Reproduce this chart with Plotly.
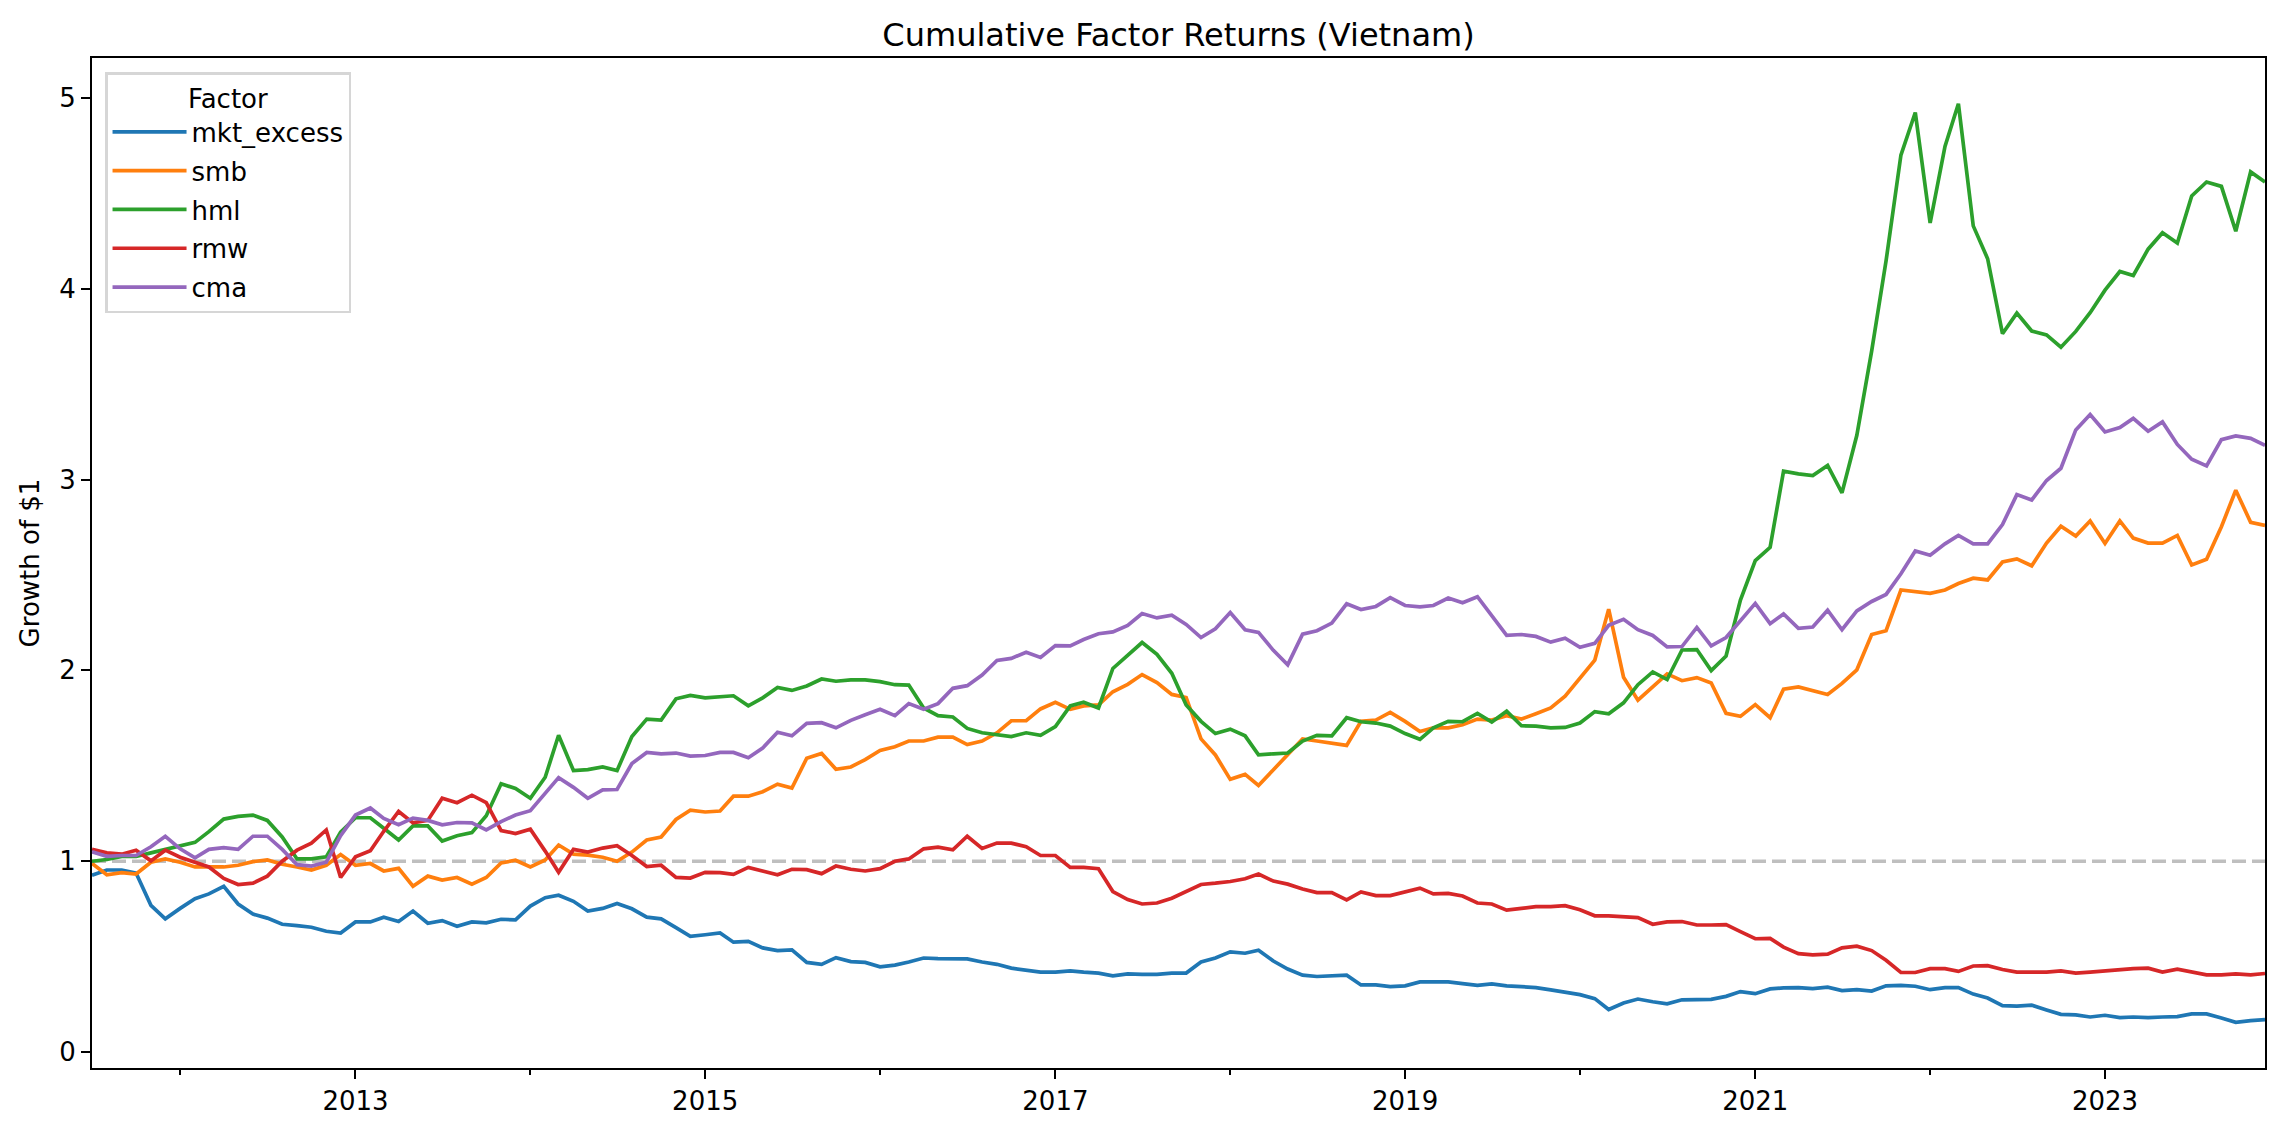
import pandas as pd
import plotly.graph_objects as go

months = pd.period_range("2011-07", "2023-12", freq="M").to_timestamp()

mkt_excess = [0.927, 0.954, 0.954, 0.938, 0.769, 0.698, 0.753, 0.804, 0.829, 0.869,
              0.776, 0.723, 0.702, 0.670, 0.663, 0.654, 0.633, 0.624, 0.682, 0.682,
              0.707, 0.684, 0.739, 0.675, 0.689, 0.659, 0.682, 0.677, 0.696, 0.693,
              0.765, 0.809, 0.822, 0.790, 0.739, 0.753, 0.779, 0.751, 0.707, 0.698,
              0.652, 0.606, 0.615, 0.624, 0.576, 0.580, 0.546, 0.532, 0.536, 0.470,
              0.460, 0.495, 0.474, 0.470, 0.447, 0.456, 0.472, 0.493, 0.490, 0.488,
              0.488, 0.472, 0.460, 0.440, 0.428, 0.419, 0.419, 0.426, 0.419, 0.414,
              0.400, 0.410, 0.407, 0.407, 0.414, 0.414, 0.472, 0.493, 0.525, 0.518,
              0.534, 0.477, 0.435, 0.403, 0.396, 0.400, 0.403, 0.352, 0.352, 0.343,
              0.347, 0.368, 0.370, 0.368, 0.359, 0.350, 0.357, 0.347, 0.343, 0.338,
              0.326, 0.315, 0.301, 0.280, 0.223, 0.257, 0.278, 0.264, 0.253, 0.274,
              0.274, 0.276, 0.292, 0.317, 0.306, 0.331, 0.336, 0.338, 0.333, 0.340,
              0.322, 0.327, 0.320, 0.347, 0.350, 0.345, 0.327, 0.338, 0.338, 0.304,
              0.283, 0.243, 0.241, 0.246, 0.221, 0.198, 0.195, 0.184, 0.193, 0.181,
              0.184, 0.181, 0.184, 0.186, 0.200, 0.200, 0.179, 0.156, 0.165, 0.170]

smb = [0.988, 0.929, 0.940, 0.933, 0.995, 1.012, 0.995, 0.970, 0.970, 0.970,
       0.979, 0.998, 1.007, 0.984, 0.970, 0.954, 0.979, 1.035, 0.979, 0.988,
       0.949, 0.963, 0.869, 0.922, 0.901, 0.915, 0.880, 0.915, 0.991, 1.005,
       0.970, 1.007, 1.085, 1.037, 1.032, 1.021, 1.000, 1.048, 1.111, 1.127,
       1.219, 1.268, 1.258, 1.263, 1.341, 1.341, 1.364, 1.404, 1.383, 1.540,
       1.565, 1.482, 1.494, 1.533, 1.581, 1.600, 1.630, 1.630, 1.650, 1.650,
       1.611, 1.630, 1.673, 1.736, 1.736, 1.798, 1.833, 1.796, 1.814, 1.819,
       1.888, 1.927, 1.978, 1.936, 1.874, 1.858, 1.641, 1.557, 1.429, 1.455,
       1.397, 1.477, 1.558, 1.641, 1.630, 1.620, 1.607, 1.733, 1.740, 1.780,
       1.733, 1.680, 1.699, 1.699, 1.715, 1.745, 1.740, 1.763, 1.745, 1.773,
       1.803, 1.865, 1.959, 2.054, 2.321, 1.964, 1.844, 1.913, 1.982, 1.946,
       1.962, 1.934, 1.775, 1.759, 1.821, 1.752, 1.902, 1.913, 1.895, 1.874,
       1.932, 2.003, 2.188, 2.208, 2.421, 2.414, 2.404, 2.421, 2.455, 2.483,
       2.474, 2.568, 2.584, 2.548, 2.667, 2.755, 2.704, 2.783, 2.665, 2.783,
       2.693, 2.667, 2.667, 2.707, 2.552, 2.582, 2.753, 2.944, 2.776, 2.760]

hml = [1.0, 1.009, 1.025, 1.025, 1.044, 1.062, 1.076, 1.099, 1.155, 1.221,
       1.235, 1.242, 1.214, 1.127, 1.012, 1.012, 1.023, 1.152, 1.228, 1.228,
       1.173, 1.111, 1.185, 1.185, 1.106, 1.134, 1.150, 1.238, 1.406, 1.381,
       1.330, 1.440, 1.660, 1.475, 1.480, 1.494, 1.475, 1.653, 1.745, 1.740,
       1.851, 1.869, 1.856, 1.860, 1.867, 1.814, 1.856, 1.911, 1.895, 1.918,
       1.955, 1.943, 1.950, 1.950, 1.941, 1.925, 1.923, 1.803, 1.763, 1.756,
       1.696, 1.673, 1.662, 1.653, 1.673, 1.660, 1.706, 1.814, 1.833, 1.803,
       2.010, 2.079, 2.146, 2.084, 1.985, 1.819, 1.733, 1.669, 1.692, 1.657,
       1.558, 1.563, 1.567, 1.630, 1.660, 1.657, 1.752, 1.731, 1.724, 1.708,
       1.669, 1.639, 1.699, 1.733, 1.731, 1.775, 1.729, 1.786, 1.710, 1.708,
       1.699, 1.701, 1.724, 1.784, 1.773, 1.830, 1.925, 1.992, 1.952, 2.107,
       2.109, 1.999, 2.075, 2.368, 2.575, 2.645, 3.044, 3.030, 3.021, 3.074,
       2.930, 3.232, 3.674, 4.146, 4.700, 4.923, 4.344, 4.745, 4.969, 4.329,
       4.157, 3.764, 3.872, 3.778, 3.758, 3.693, 3.776, 3.874, 3.992, 4.090,
       4.069, 4.207, 4.293, 4.239, 4.486, 4.559, 4.536, 4.301, 4.612, 4.559]

rmw = [1.063, 1.044, 1.037, 1.058, 1.002, 1.058, 1.021, 0.993, 0.970, 0.910,
       0.878, 0.885, 0.922, 1.000, 1.058, 1.095, 1.164, 0.915, 1.023, 1.055,
       1.157, 1.261, 1.201, 1.214, 1.330, 1.307, 1.346, 1.307, 1.161, 1.145,
       1.168, 1.053, 0.942, 1.062, 1.048, 1.069, 1.081, 1.030, 0.972, 0.979,
       0.915, 0.912, 0.942, 0.940, 0.931, 0.968, 0.949, 0.929, 0.958, 0.956,
       0.935, 0.975, 0.958, 0.949, 0.961, 1.000, 1.012, 1.065, 1.074, 1.060,
       1.131, 1.067, 1.095, 1.095, 1.076, 1.030, 1.030, 0.968, 0.968, 0.961,
       0.841, 0.799, 0.776, 0.781, 0.806, 0.843, 0.878, 0.885, 0.894, 0.908,
       0.933, 0.896, 0.880, 0.855, 0.836, 0.836, 0.797, 0.839, 0.820, 0.820,
       0.841, 0.859, 0.829, 0.832, 0.818, 0.781, 0.776, 0.744, 0.753, 0.762,
       0.762, 0.767, 0.746, 0.714, 0.714, 0.709, 0.705, 0.670, 0.682, 0.684,
       0.666, 0.666, 0.668, 0.631, 0.594, 0.596, 0.550, 0.516, 0.509, 0.513,
       0.546, 0.555, 0.532, 0.481, 0.417, 0.417, 0.437, 0.437, 0.423, 0.451,
       0.453, 0.433, 0.419, 0.419, 0.419, 0.426, 0.414, 0.419, 0.426, 0.430,
       0.437, 0.440, 0.419, 0.435, 0.419, 0.405, 0.405, 0.410, 0.405, 0.412]

cma = [1.049, 1.026, 1.030, 1.030, 1.076, 1.131, 1.065, 1.018, 1.062, 1.071,
       1.062, 1.131, 1.131, 1.062, 0.982, 0.975, 0.995, 1.134, 1.242, 1.279,
       1.224, 1.191, 1.226, 1.214, 1.191, 1.203, 1.201, 1.164, 1.208, 1.242,
       1.265, 1.353, 1.438, 1.387, 1.330, 1.374, 1.376, 1.512, 1.570, 1.563,
       1.567, 1.551, 1.554, 1.570, 1.570, 1.542, 1.593, 1.676, 1.657, 1.722,
       1.726, 1.699, 1.738, 1.768, 1.796, 1.763, 1.826, 1.796, 1.826, 1.906,
       1.920, 1.976, 2.052, 2.063, 2.095, 2.068, 2.130, 2.128, 2.162, 2.192,
       2.202, 2.236, 2.298, 2.275, 2.289, 2.241, 2.172, 2.218, 2.303, 2.213,
       2.199, 2.105, 2.029, 2.190, 2.208, 2.248, 2.349, 2.319, 2.335, 2.381,
       2.340, 2.333, 2.340, 2.379, 2.354, 2.386, 2.287, 2.183, 2.188, 2.178,
       2.148, 2.169, 2.121, 2.142, 2.236, 2.268, 2.213, 2.183, 2.123, 2.125,
       2.225, 2.128, 2.172, 2.257, 2.351, 2.245, 2.296, 2.220, 2.227, 2.315,
       2.213, 2.312, 2.361, 2.398, 2.506, 2.626, 2.603, 2.663, 2.707, 2.663,
       2.663, 2.764, 2.921, 2.893, 2.995, 3.059, 3.260, 3.341, 3.249, 3.272,
       3.320, 3.253, 3.302, 3.184, 3.106, 3.071, 3.209, 3.228, 3.216, 3.179]

series = {"mkt_excess": mkt_excess, "smb": smb, "hml": hml, "rmw": rmw, "cma": cma}
colors = ["#1f77b4", "#ff7f0e", "#2ca02c", "#d62728", "#9467bd"]

year_ticks = pd.date_range("2012-01-01", "2023-01-01", freq="YS")
major_vals = [d for d in year_ticks if d.year % 2 == 1]
major_text = [str(d.year) for d in major_vals]
minor_vals = [d for d in year_ticks if d.year % 2 == 0]
y_ticks = [0, 1, 2, 3, 4, 5]

FONT = "DejaVu Sans"
W, H = 2276, 1124  # page body has an 8px margin

fig = go.Figure()
for (name, vals), c in zip(series.items(), colors):
    fig.add_trace(go.Scatter(x=months, y=vals, mode="lines", name=name,
                             legendgroup=name,
                             line=dict(color=c, width=3.7)))

fig.add_shape(type="line", xref="paper", x0=0, x1=1, yref="y", y0=1, y1=1,
              line=dict(color="rgba(128,128,128,0.5)", width=3.7, dash="14px,6px"),
              layer="below")

fig.update_layout(
    width=W, height=H,
    margin=dict(l=84, r=19, t=50, b=64),
    paper_bgcolor="white", plot_bgcolor="white",
    font=dict(family=FONT, size=26, color="black"),
    title=dict(text="Cumulative Factor Returns (Vietnam)", x=0.5, xref="paper",
               xanchor="center", y=1 - 27 / H, yref="container", yanchor="middle",
               font=dict(size=32, family=FONT, color="black")),
    showlegend=True,
    legend=dict(x=0.006, y=0.986, xanchor="left", yanchor="top",
                bgcolor="rgba(255,255,255,0.8)", bordercolor="#d6d6d6", borderwidth=2.5,
                title=dict(text="Factor", side="top center", font=dict(size=26)),
                font=dict(size=26, family=FONT), itemwidth=74, tracegroupgap=2),
    xaxis=dict(range=[months[0], months[-1]], showgrid=False, zeroline=False,
               showline=True, linecolor="black", linewidth=2, mirror=True,
               ticks="outside", ticklen=9, tickwidth=2, tickcolor="black",
               tickvals=major_vals, ticktext=major_text,
               minor=dict(tickvals=minor_vals, ticks="outside", ticklen=5,
                          tickwidth=2, tickcolor="black", showgrid=False),
               tickfont=dict(size=26, family=FONT)),
    yaxis=dict(range=[-0.0833, 5.2086], showgrid=False, zeroline=False,
               showline=True, linecolor="black", linewidth=2, mirror=True,
               ticks="outside", ticklen=9, tickwidth=2, tickcolor="black",
               tickvals=y_ticks, ticktext=[str(v) for v in y_ticks],
               title=dict(text="Growth of $1", font=dict(size=26, family=FONT), standoff=12),
               tickfont=dict(size=26, family=FONT)),
)

fig.write_html("out.html")
